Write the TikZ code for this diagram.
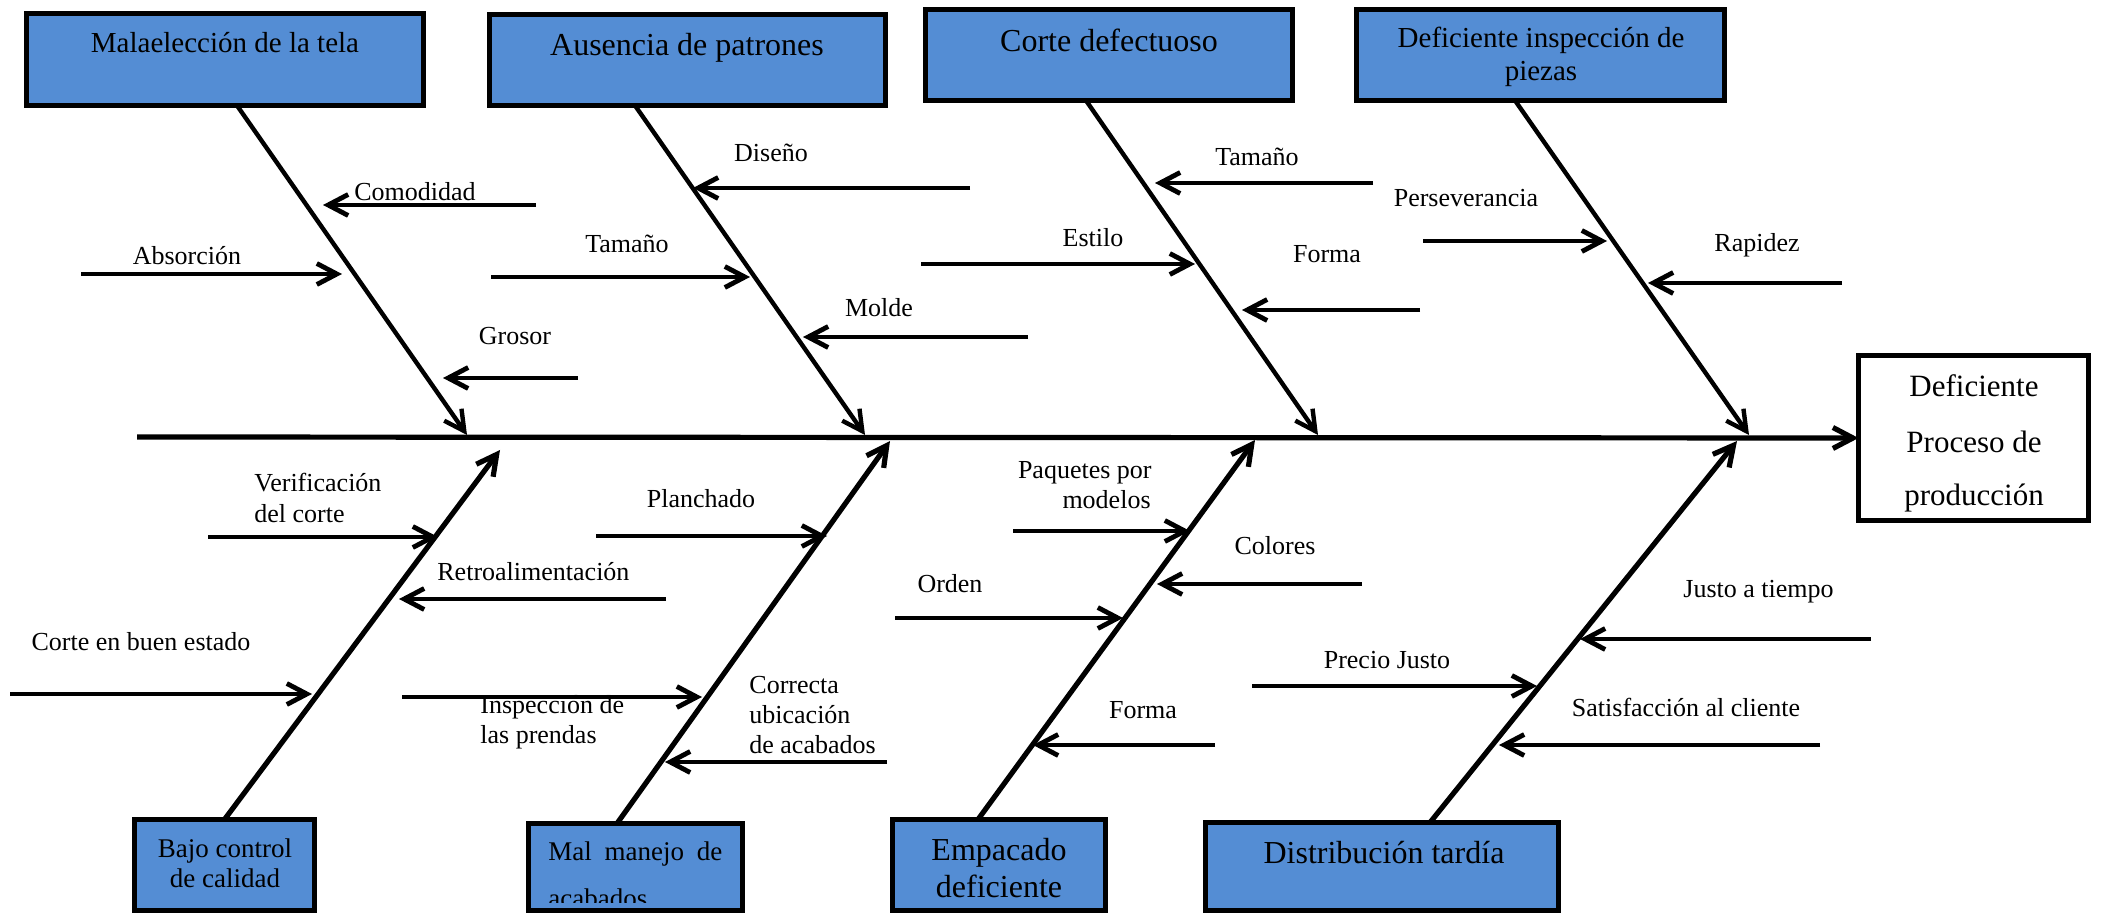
\documentclass[tikz,border=0pt]{standalone}
\usepackage{fontspec}
\setmainfont{Liberation Serif}
\usetikzlibrary{arrows.meta}
\definecolor{boxblue}{RGB}{84,141,212}
\begin{document}
\begin{tikzpicture}[x=0.5pt,y=-0.5pt,
  box/.style={draw=black, line width=2.6pt, fill=boxblue, outer sep=0pt, inner sep=0pt},
  lab/.style={font=\fontsize{13pt}{15pt}\selectfont, inner sep=0pt, anchor=base},
  bigtxt/.style={lab, font=\fontsize{16pt}{18pt}\selectfont},
  midtxt/.style={lab, font=\fontsize{14.5pt}{16pt}\selectfont},
  smtxt/.style={lab, font=\fontsize{13.5pt}{15pt}\selectfont},
  subarr/.style={line width=2.4pt, -{Straight Barb[length=10pt,width=10.5pt]}},
  bone/.style={line width=2.2pt, -{Straight Barb[length=10pt,width=10.5pt]}},
  bbone/.style={line width=2.6pt, -{Straight Barb[length=10pt,width=10.5pt]}},
  spine/.style={line width=2.6pt, -{Straight Barb[length=10pt,width=10.5pt]}}
]
\useasboundingbox (0,0) rectangle (2104,914);
\clip (0,0) rectangle (2104,914);

% ---------- boxes ----------
\node[box, minimum width=198.5pt, minimum height=46pt]   (A) at (225,59.5) {};
\node[box, minimum width=198pt,   minimum height=45.5pt] (B) at (687.5,60) {};
\node[box, minimum width=183.5pt, minimum height=45.5pt] (C) at (1109,55) {};
\node[box, minimum width=184pt,   minimum height=45.5pt] (D) at (1540.5,55) {};
\node[box, fill=white, line width=2.6pt, minimum width=115pt, minimum height=82.5pt] (R) at (1973.5,438) {};
\node[box, minimum width=90pt,    minimum height=45.5pt] (E) at (224.5,865) {};
\node[box, minimum width=107pt,   minimum height=43.5pt] (F) at (635.5,867) {};
\node[box, minimum width=106.5pt, minimum height=45.5pt] (G) at (999,865) {};
\node[box, minimum width=176.5pt, minimum height=44pt]   (H) at (1382,866.5) {};

% ---------- box texts ----------
\node[midtxt] (tA) at (225,53) {Malaelección de la tela};
\node[bigtxt] (tB) at (687,56) {Ausencia de patrones};
\node[bigtxt] (tC) at (1109,52) {Corte defectuoso};
\node[midtxt] (tD1) at (1541,48) {Deficiente inspección de};
\node[midtxt] (tD2) at (1541,81) {piezas};
\node[lab, font=\fontsize{15.5pt}{17pt}\selectfont] (tR1) at (1974,397) {Deficiente};
\node[lab, font=\fontsize{15.5pt}{17pt}\selectfont] (tR2) at (1974,452) {Proceso de};
\node[lab, font=\fontsize{15.5pt}{17pt}\selectfont] (tR3) at (1974,505) {producción};
\node[smtxt] (tE1) at (225,857) {Bajo control};
\node[smtxt] (tE2) at (225,887) {de calidad};
\node[smtxt, anchor=base west] (tF1) at (548,860) {\makebox[87pt][s]{Mal manejo de}};
\begin{scope}
  \clip (530,880) rectangle (740,902);
  \node[smtxt, anchor=base west] (tF2) at (548,907) {acabados};
\end{scope}
\node[bigtxt] (tG1) at (999,860) {Empacado};
\node[bigtxt] (tG2) at (999,897) {deficiente};
\node[bigtxt] (tH) at (1384,863) {Distribución tardía};

% ---------- spine ----------
\coordinate (s0) at (137,437);
\draw[spine] (s0) -- (R.west);

% ---------- bone tips ----------
\coordinate (pA) at (467,435);
\coordinate (pB) at (865,435);
\coordinate (pC) at (1318,435);
\coordinate (pD) at (1749,435);
\coordinate (pE) at (500,450);
\coordinate (pF) at (890,441);
\coordinate (pG) at (1255,440);
\coordinate (pH) at (1737,441);

\draw[bone] ([xshift=6pt]A.south) -- (pA);
\draw[bone] ([xshift=-26.25pt]B.south) -- (pB);
\draw[bone] ([xshift=-11.5pt]C.south) -- (pC);
\draw[bone] ([xshift=-12.75pt]D.south) -- (pD);
\draw[bbone] (E.north) -- (pE);
\draw[bbone] ([xshift=-9.25pt]F.north) -- (pF);
\draw[bbone] ([xshift=-10.5pt]G.north) -- (pG);
\draw[bbone] ([xshift=24pt]H.north) -- (pH);

% ---------- sub causes: A ----------
\coordinate (a1s) at (536,205); \coordinate (a1e) at (323,205);
\draw[subarr] (a1s) -- (a1e);
\node[lab] (lA1) at (415,201) {Comodidad};
\coordinate (a2s) at (81,274); \coordinate (a2e) at (342,274);
\draw[subarr] (a2s) -- (a2e);
\node[lab] (lA2) at (187,265) {Absorción};
\coordinate (a3s) at (578,378); \coordinate (a3e) at (443,378);
\draw[subarr] (a3s) -- (a3e);
\node[lab] (lA3) at (515,345) {Grosor};

% ---------- B ----------
\coordinate (b1s) at (970,188); \coordinate (b1e) at (693,188);
\draw[subarr] (b1s) -- (b1e);
\node[lab] (lB1) at (771,162) {Diseño};
\coordinate (b2s) at (491,277); \coordinate (b2e) at (750,277);
\draw[subarr] (b2s) -- (b2e);
\node[lab] (lB2) at (627,253) {Tamaño};
\coordinate (b3s) at (1028,337); \coordinate (b3e) at (803,337);
\draw[subarr] (b3s) -- (b3e);
\node[lab] (lB3) at (879,317) {Molde};

% ---------- C ----------
\coordinate (c1s) at (1373,183); \coordinate (c1e) at (1155,183);
\draw[subarr] (c1s) -- (c1e);
\node[lab] (lC1) at (1257,166) {Tamaño};
\coordinate (c2s) at (921,264); \coordinate (c2e) at (1195,264);
\draw[subarr] (c2s) -- (c2e);
\node[lab] (lC2) at (1093,247) {Estilo};
\coordinate (c3s) at (1420,310); \coordinate (c3e) at (1242,310);
\draw[subarr] (c3s) -- (c3e);
\node[lab] (lC3) at (1327,263) {Forma};

% ---------- D ----------
\coordinate (d1s) at (1423,241); \coordinate (d1e) at (1607,241);
\draw[subarr] (d1s) -- (d1e);
\node[lab] (lD1) at (1466,207) {Perseverancia};
\coordinate (d2s) at (1842,283); \coordinate (d2e) at (1648,283);
\draw[subarr] (d2s) -- (d2e);
\node[lab] (lD2) at (1757,252) {Rapidez};

% ---------- E ----------
\coordinate (e1s) at (208,537); \coordinate (e1e) at (438,537);
\draw[subarr] (e1s) -- (e1e);
\node[lab, anchor=base west] (lE1a) at (254,491) {Verificación};
\node[lab, anchor=base west] (lE1b) at (254,522) {del corte};
\coordinate (e2s) at (666,599); \coordinate (e2e) at (399,599);
\draw[subarr] (e2s) -- (e2e);
\node[lab, anchor=base west] (lE2) at (437,580) {Retroalimentación};
\coordinate (e3s) at (10,694); \coordinate (e3e) at (312,694);
\draw[subarr] (e3s) -- (e3e);
\node[lab] (lE3) at (141,650) {Corte en buen estado};

% ---------- F ----------
\coordinate (f1s) at (596,536); \coordinate (f1e) at (827,536);
\draw[subarr] (f1s) -- (f1e);
\node[lab] (lF1) at (701,508) {Planchado};
\coordinate (f2s) at (402,697); \coordinate (f2e) at (702,697);
\draw[subarr] (f2s) -- (f2e);
\node[lab, anchor=base west] (lF2a) at (480,713) {Inspección de};
\node[lab, anchor=base west] (lF2b) at (480,743) {las prendas};
\coordinate (f3s) at (887,762); \coordinate (f3e) at (665,762);
\draw[subarr] (f3s) -- (f3e);
\node[lab, anchor=base west] (lF3a) at (749,693) {Correcta};
\node[lab, anchor=base west] (lF3b) at (749,723) {ubicación};
\node[lab, anchor=base west] (lF3c) at (749,753) {de acabados};

% ---------- G ----------
\coordinate (g1s) at (1013,531); \coordinate (g1e) at (1190,531);
\draw[subarr] (g1s) -- (g1e);
\node[lab, anchor=base east] (lG1a) at (1152,479) {Paquetes por};
\node[lab, anchor=base east] (lG1b) at (1151,509) {modelos};
\coordinate (g2s) at (1362,584); \coordinate (g2e) at (1157,584);
\draw[subarr] (g2s) -- (g2e);
\node[lab] (lG2) at (1275,554) {Colores};
\coordinate (g3s) at (895,618); \coordinate (g3e) at (1123,618);
\draw[subarr] (g3s) -- (g3e);
\node[lab] (lG3) at (950,592) {Orden};
\coordinate (g4s) at (1215,745); \coordinate (g4e) at (1033,745);
\draw[subarr] (g4s) -- (g4e);
\node[lab] (lG4) at (1143,718) {Forma};

% ---------- H ----------
\coordinate (h1s) at (1871,639); \coordinate (h1e) at (1580,639);
\draw[subarr] (h1s) -- (h1e);
\node[lab, anchor=base west] (lH1) at (1683,597) {Justo a tiempo};
\coordinate (h2s) at (1252,686); \coordinate (h2e) at (1537,686);
\draw[subarr] (h2s) -- (h2e);
\node[lab] (lH2) at (1387,668) {Precio Justo};
\coordinate (h3s) at (1820,745); \coordinate (h3e) at (1499,745);
\draw[subarr] (h3s) -- (h3e);
\node[lab] (lH3) at (1686,716) {Satisfacción al cliente};
\end{tikzpicture}
\end{document}
